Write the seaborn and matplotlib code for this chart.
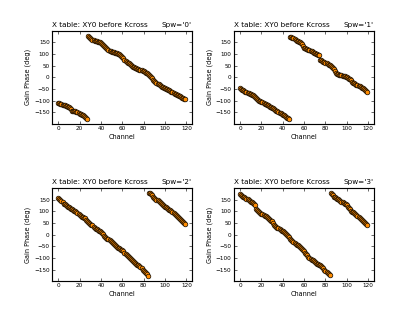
import numpy as np
import pandas as pd
import seaborn as sns
import matplotlib
matplotlib.use('Agg')
import matplotlib.pyplot as plt

# gain phase (deg) per channel
channels = list(range(120))

spw0 = [-108, -110, -112, -113, -116, -118, -120, -121, -124, -126,
        -128, -131, -135, -142, -144, -143, -145, -147, -150, -152,
        -155, -158, -161, -163, -166, -169, -173, -177, 178, 172,
        167, 164, 161, 159, 157, 156, 154, 153, 151, 150,
        148, 145, 140, 136, 131, 126, 121, 117, 115, 113,
        111, 109, 107, 106, 104, 103, 102, 100, 98, 93,
        88, 82, 76, 71, 67, 63, 60, 57, 53, 49,
        46, 43, 41, 39, 37, 35, 33, 31, 30, 29,
        27, 25, 21, 17, 14, 10, 6, 2, -4, -10,
        -16, -20, -24, -27, -30, -33, -36, -39, -41, -44,
        -46, -48, -50, -53, -55, -58, -61, -64, -67, -70,
        -73, -75, -77, -79, -81, -84, -87, -89, -91, -92]

spw1 = [-47, -50, -52, -55, -58, -61, -64, -66, -68, -70,
        -73, -75, -77, -80, -83, -88, -93, -96, -99, -101,
        -104, -107, -109, -112, -114, -117, -120, -122, -125, -127,
        -130, -133, -136, -139, -142, -145, -148, -151, -154, -157,
        -160, -163, -166, -169, -172, -175, -178, 174, 172, 170,
        167, 163, 160, 157, 155, 153, 150, 147, 143, 136,
        128, 125, 123, 121, 119, 117, 114, 112, 110, 106,
        103, 101, 99, 97, 95, 76, 73, 70, 68, 66,
        63, 60, 58, 55, 52, 49, 46, 42, 38, 28,
        18, 15, 13, 12, 11, 10, 8, 6, 4, 2,
        0, -2, -5, -8, -12, -18, -23, -26, -28, -31,
        -33, -36, -38, -41, -44, -47, -50, -53, -57, -61]

spw2 = [158, 154, 148, 143, 139, 133, 130, 126, 122, 119,
        116, 113, 111, 108, 105, 102, 99, 95, 91, 87,
        83, 80, 77, 74, 71, 69, 64, 60, 55, 51,
        47, 43, 39, 34, 30, 26, 23, 20, 17, 14,
        11, 6, 1, -4, -9, -13, -17, -21, -25, -28,
        -32, -36, -40, -45, -49, -53, -56, -59, -62, -65,
        -67, -72, -77, -83, -88, -93, -97, -102, -106, -111,
        -115, -118, -122, -125, -129, -132, -136, -141, -145, -150,
        -154, -159, -165, -171, -178, 179, 176, 172, 169, 162,
        155, 152, 149, 146, 143, 141, 136, 131, 127, 123,
        119, 116, 113, 110, 107, 105, 101, 96, 91, 87,
        83, 79, 74, 70, 66, 62, 57, 52, 48, 44]

spw3 = [172, 169, 166, 163, 161, 158, 154, 151, 148, 144,
        141, 138, 135, 131, 126, 108, 104, 100, 97, 93,
        90, 87, 84, 81, 79, 76, 72, 68, 64, 60,
        57, 50, 43, 36, 33, 30, 27, 24, 20, 17,
        14, 10, 6, 1, -3, -7, -12, -17, -22, -27,
        -32, -36, -39, -43, -46, -50, -54, -59, -63, -68,
        -72, -77, -83, -88, -94, -99, -103, -107, -111, -115,
        -118, -121, -124, -127, -129, -132, -136, -141, -145, -150,
        -154, -159, -164, -169, -175, 178, 174, 168, 163, 160,
        158, 154, 151, 147, 144, 141, 138, 135, 132, 129,
        126, 120, 114, 108, 103, 98, 95, 91, 87, 83,
        79, 75, 71, 67, 63, 59, 54, 49, 44, 40]

spw_names = ['0', '1', '2', '3']
phases = [spw0, spw1, spw2, spw3]

fig, axes = plt.subplots(2, 2, figsize=(415 / 52, 312 / 52), dpi=52)
fig.subplots_adjust(left=0.125, right=0.9, top=0.9, bottom=0.1,
                    wspace=0.3, hspace=0.7)

for ax, name, ph in zip(axes.flat, spw_names, phases):
    df = pd.DataFrame({'Channel': channels, 'phase': ph})
    sns.scatterplot(data=df, x='Channel', y='phase', ax=ax,
                    color='#ff8c00', edgecolor='black', linewidth=0.9,
                    s=42, legend=False, zorder=3)
    ax.set_xlim(-6, 125)
    ax.set_ylim(-198, 198)
    ax.set_xticks([0, 20, 40, 60, 80, 100, 120])
    ax.set_yticks([-150, -100, -50, 0, 50, 100, 150])
    ax.tick_params(direction='in', top=True, right=True, labelsize=8,
                   length=4, pad=3)
    for sp in ax.spines.values():
        sp.set_linewidth(1.6)
    ax.set_xlabel('Channel', fontsize=9)
    ax.set_ylabel('Gain Phase (deg)', fontsize=9)
    ax.set_title('X table: XY0 before Kcross', loc='left', fontsize=10)
    ax.set_title("Spw='%s'" % name, loc='right', fontsize=10)

plt.savefig('out.png', dpi=52)
